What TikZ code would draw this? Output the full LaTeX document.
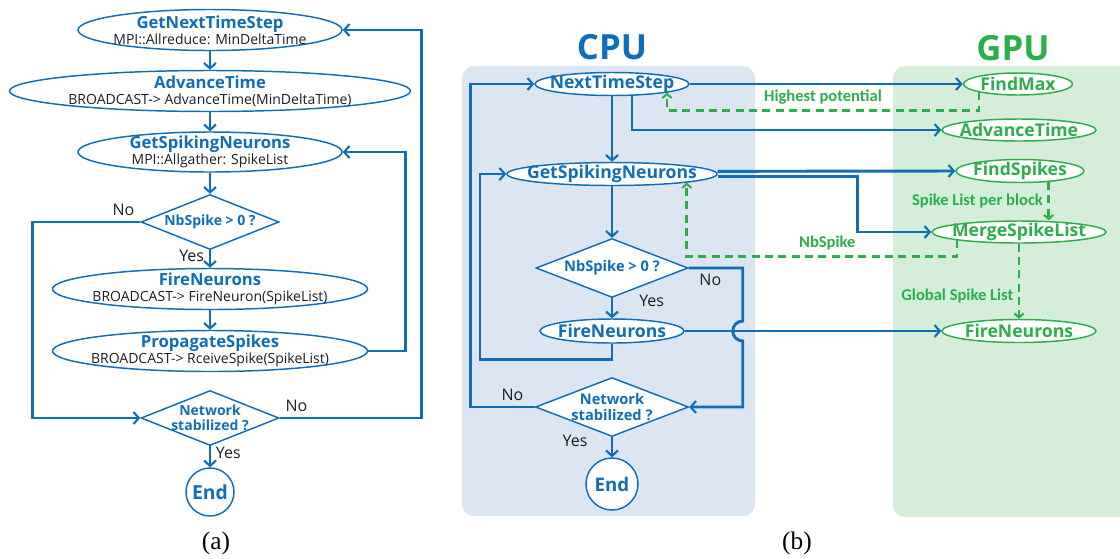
\documentclass[tikz,border=0pt]{standalone}
\usepackage{fontspec}
\setmainfont{Open Sans}
\newfontfamily\lblfont{Carlito}
\newfontfamily\capfont{Liberation Serif}
\usepackage{tikz}
\usetikzlibrary{shapes.geometric,arrows.meta}
\definecolor{cblue}{HTML}{0E6EB8}
\definecolor{cgreen}{HTML}{2BAF4B}
\definecolor{cpubg}{HTML}{DCE6F2}
\definecolor{gpubg}{HTML}{D4EED9}
\definecolor{txt}{HTML}{1E1E1E}
\newcommand{\ttl}{\fontsize{12.5}{13}\selectfont\bfseries\color{cblue}}
\newcommand{\subtxt}{\fontsize{10.5}{11}\selectfont\mdseries\color{txt}}

\begin{document}
\begin{tikzpicture}[x=0.75pt,y=-0.75pt,
  ebox/.style={ellipse,draw=cblue,line width=1.1pt,fill=white,inner sep=-40pt,align=center},
  cbox/.style={ebox,font=\fontsize{13.2}{15}\selectfont\bfseries,text=cblue},
  gbox/.style={ebox,draw=cgreen,font=\fontsize{13.2}{15}\selectfont\bfseries,text=cgreen},
  dbox/.style={diamond,draw=cblue,line width=1.1pt,fill=white,inner sep=-40pt,align=center,
    font=\fontsize{10.5}{11.5}\selectfont\bfseries,text=cblue},
  stopbox/.style={circle,draw=cblue,line width=1.1pt,fill=white,inner sep=0pt,
    font=\fontsize{14.5}{16}\selectfont\bfseries,text=cblue},
  flow/.style={draw=cblue,line width=2.2pt,-{Straight Barb[length=4pt,width=9pt,line width=1.6pt]}},
  dflow/.style={draw=cgreen,line width=2pt,dash pattern=on 6pt off 4pt,
    -{Straight Barb[length=3pt,width=7pt,line width=1.5pt]}},
  yn/.style={font=\fontsize{12}{13}\selectfont,text=txt},
  glbl/.style={font=\lblfont\fontsize{12.4}{13}\selectfont\bfseries,text=cgreen}]
  \useasboundingbox (0,0) rectangle (1120,558);

  \fill[cpubg,rounded corners=9pt] (462,66) rectangle (755,516);
  \fill[gpubg,rounded corners=9pt] (893,66) rectangle (1135,517);

  % (a)
  \node[ebox,minimum width=198pt,minimum height=30.75pt] (gnts) at (210,30)
    {{\ttl GetNextTimeStep}\\{\subtxt MPI::Allreduce: MinDeltaTime}};
  \node[ebox,minimum width=300.75pt,minimum height=30.75pt] (adv) at (210,91)
    {{\ttl AdvanceTime}\\{\subtxt BROADCAST-> AdvanceTime(MinDeltaTime)}};
  \node[ebox,minimum width=198pt,minimum height=30pt] (gsn) at (210,152)
    {{\ttl GetSpikingNeurons}\\{\subtxt MPI::Allgather: SpikeList}};
  \node[dbox,minimum width=103.5pt,minimum height=41.25pt] (nb) at (210,222) {NbSpike > 0 ?};
  \node[ebox,minimum width=236.25pt,minimum height=30.75pt] (fire) at (210,289)
    {{\ttl FireNeurons}\\{\subtxt BROADCAST-> FireNeuron(SpikeList)}};
  \node[ebox,minimum width=236.25pt,minimum height=30.75pt] (prop) at (210,351)
    {{\ttl PropagateSpikes}\\{\subtxt BROADCAST-> RceiveSpike(SpikeList)}};
  \node[dbox,minimum width=103.5pt,minimum height=41.25pt] (nets) at (210,418) {Network\\stabilized ?};
  \node[stopbox,minimum size=36pt] (enda) at (210,492) {End};

  \draw[flow] (gnts) -- (adv);
  \draw[flow] (adv) -- (gsn);
  \draw[flow] (gsn) -- (nb);
  \draw[flow] (nb) -- node[yn,left,pos=0.3]{Yes} (fire);
  \draw[flow] (fire) -- (prop);
  \draw[flow] (nets) -- node[yn,right,pos=0.3]{Yes} (enda);
  \draw[flow] (nets.east) -- node[yn,above right,pos=0]{No} ++(142,0) |- (gnts.east);
  \draw[flow] (prop.east) -- ++(37.5,0) |- (gsn.east);
  \draw[flow] (nb.west) -- node[yn,above left,pos=0]{No} ++(-108,0) |- (nets.west);

  % (b)
  \node[font=\fontsize{26}{28}\selectfont\bfseries,text=cblue] (cpu) at (612,47) {CPU};
  \node[font=\fontsize{26}{28}\selectfont\bfseries,text=cgreen] (gpu) at (1013,48) {GPU};

  \node[cbox,minimum width=115.5pt,minimum height=17.25pt] (nts) at (612,84) {NextTimeStep};
  \node[cbox,minimum width=157.5pt,minimum height=17.25pt] (gsnb) at (612,174) {GetSpikingNeurons};
  \node[dbox,minimum width=114pt,minimum height=44.25pt,font=\fontsize{11}{12}\selectfont\bfseries] (nbb) at (612,268) {NbSpike > 0 ?};
  \node[cbox,minimum width=108pt,minimum height=18pt] (fireb) at (612,331) {FireNeurons};
  \node[dbox,minimum width=114.75pt,minimum height=44.25pt,font=\fontsize{11}{12}\selectfont\bfseries] (netsb) at (612,407) {Network\\stabilized ?};
  \node[stopbox,minimum size=39pt,font=\fontsize{14}{16}\selectfont\bfseries] (endb) at (612,484) {End};

  \node[gbox,minimum width=81.75pt,minimum height=16.5pt] (fmax) at (1018,84) {FindMax};
  \node[gbox,minimum width=115.5pt,minimum height=16.5pt] (advg) at (1019,130) {AdvanceTime};
  \node[gbox,minimum width=96pt,minimum height=17.25pt] (fspk) at (1020,171) {FindSpikes};
  \node[gbox,minimum width=130.5pt,minimum height=16.5pt] (mrg) at (1019,232) {MergeSpikeList};
  \node[gbox,minimum width=115.5pt,minimum height=17.25pt] (fireg) at (1019,331) {FireNeurons};

  \draw[flow] (nts) -- (gsnb);
  \draw[flow] (gsnb) -- (nbb);
  \draw[flow] (nbb) -- node[yn,right=16pt,pos=0.15]{Yes} (fireb);
  \draw[flow] (fireb.south) -- ++(0,16) -- ++(-132,0) |- (gsnb.west);
  \draw[flow] (netsb.west) -- node[yn,above,pos=0.35]{No} ++(-64,0) |- (nts.west);
  \draw[flow] (nbb.east) -- node[yn,below,pos=0.4]{No} ++(54,0) -- ++(0,53)
    arc[start angle=90,end angle=270,radius=7.5pt] |- (netsb.east);
  \draw[flow] (fireb.east) -- (fireg.west);
  \draw[flow] (netsb) -- node[yn,left=14pt,pos=0.2]{Yes} (endb);

  \draw[flow] (nts.east) -- (fmax.west);
  \draw[flow] (nts.south) ++(20,0) |- (advg.west);
  \draw[flow] ([yshift=2pt]gsnb.east) -- (fspk.west);
  \draw[flow] ([yshift=-2pt]gsnb.east) -- ++(140,0) |- (mrg.west);

  \draw[dflow] (fmax.south west) -- ++(0,18) -| node[glbl,above,pos=0.25]{Highest potential} (nts.south east);
  \draw[dflow] (mrg.south west) -- ++(0,16) -| node[glbl,above,pos=0.24]{NbSpike} (gsnb.south east);
  \draw[dflow] (fspk.-21) -- node[glbl,left,pos=0.5]{Spike List per block} (fspk.-21 |- mrg.north);
  \draw[dflow] (mrg) -- node[glbl,left,pos=0.69]{Global Spike List} (fireg);

  \node[font=\capfont\fontsize{19}{21}\selectfont] (capa) at (216,543) {(a)};
  \node[font=\capfont\fontsize{19}{21}\selectfont] (capb) at (797,543) {(b)};
\end{tikzpicture}
\end{document}
